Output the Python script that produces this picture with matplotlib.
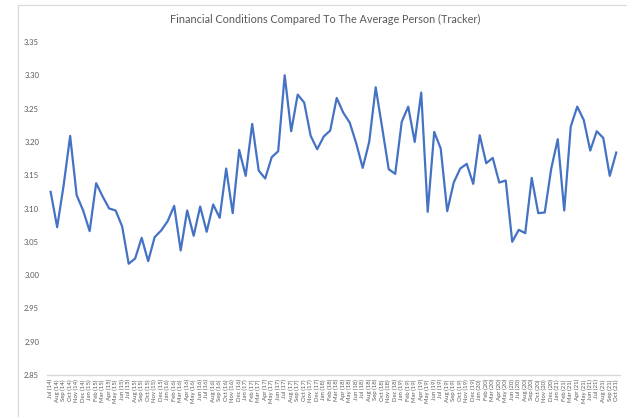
import numpy as np
import matplotlib
matplotlib.use("Agg")
import matplotlib.pyplot as plt
from matplotlib.patches import Rectangle

months = ["Jan", "Feb", "Mar", "Apr", "May", "Jun", "Jul", "Aug", "Sep", "Oct", "Nov", "Dec"]
# Jul 2014 .. Oct 2021
labels = []
for yr in range(14, 22):
    for i, m in enumerate(months):
        if yr == 14 and i < 6:
            continue
        if yr == 21 and i > 9:
            continue
        labels.append("%s (%d)" % (m, yr))

values = [3.125, 3.072, 3.135, 3.209, 3.120, 3.097,
          3.066, 3.138, 3.118, 3.100, 3.097, 3.073, 3.017, 3.025, 3.056, 3.021, 3.057, 3.067,
          3.081, 3.104, 3.037, 3.097, 3.059, 3.103, 3.065, 3.106, 3.086, 3.160, 3.093, 3.188,
          3.149, 3.227, 3.157, 3.145, 3.177, 3.186, 3.300, 3.216, 3.271, 3.259, 3.209, 3.189,
          3.208, 3.217, 3.266, 3.244, 3.229, 3.198, 3.161, 3.200, 3.282, 3.221, 3.159, 3.152,
          3.230, 3.253, 3.200, 3.274, 3.095, 3.215, 3.190, 3.096, 3.139, 3.160, 3.167, 3.137,
          3.210, 3.168, 3.176, 3.139, 3.142, 3.050, 3.068, 3.063, 3.146, 3.093, 3.094, 3.160,
          3.204, 3.097, 3.223, 3.253, 3.233, 3.187, 3.216, 3.206, 3.149, 3.184]

yticks = np.arange(2.85, 3.3501, 0.05)

plt.rcParams['font.family'] = ['Lato', 'DejaVu Sans']

fig = plt.figure(figsize=(6.27, 4.17), dpi=100)
# chart border
fig.patches.append(Rectangle((18/627, -0.1), 1.0, (417-5)/417 + 0.1, transform=fig.transFigure,
                             fill=False, edgecolor='#d9d9d9', linewidth=0.8))

ax = fig.add_axes([47.4/627, 42/417, (619.5-47.4)/627, (375-42)/417])
x = np.arange(len(values))
ax.plot(x, values, color='#4472C4', linewidth=1.6)

ax.set_xlim(-0.5, len(values) - 0.5)
ax.set_ylim(2.85, 3.35)
ax.set_yticks(yticks)
ax.set_yticklabels(["%.2f" % v for v in yticks], fontsize=5.5, color='#595959')
ax.set_xticks(x)
ax.set_xticklabels(labels, rotation=90, fontsize=4.3, color='#595959')
ax.tick_params(length=0, pad=3)
ax.tick_params(axis='y', pad=6)

for s in ['top', 'right', 'left']:
    ax.spines[s].set_visible(False)
ax.spines['bottom'].set_color('#d9d9d9')
ax.spines['bottom'].set_linewidth(1.0)

fig.text(0.518, 1 - 19/417, "Financial Conditions Compared To The Average Person (Tracker)",
         ha='center', va='center', fontsize=7.8, color='#595959')

fig.savefig("out.png", dpi=100)
